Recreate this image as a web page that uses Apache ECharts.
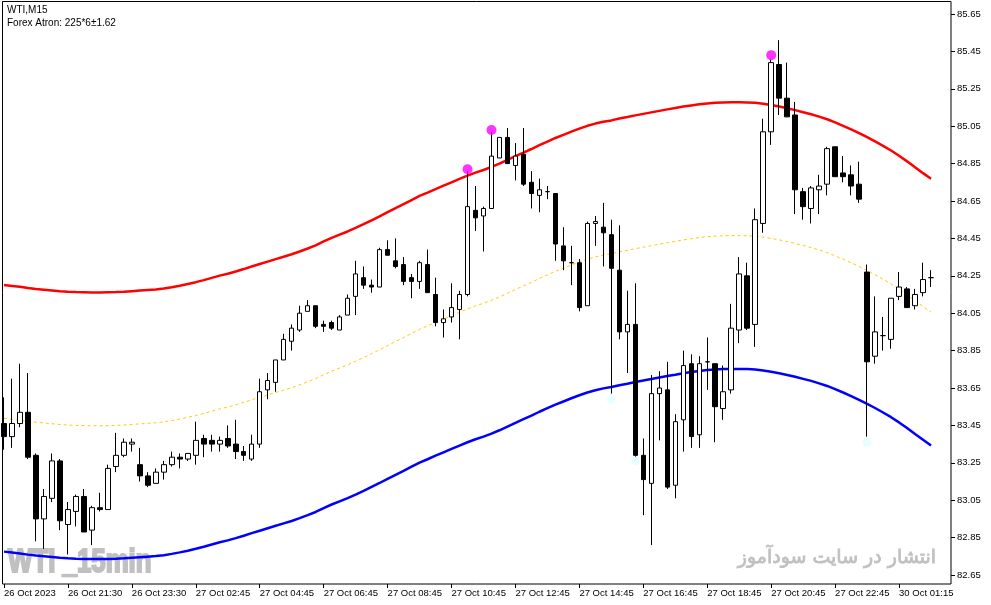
<!DOCTYPE html>
<html>
<head>
<meta charset="utf-8">
<script src="https://cdn.jsdelivr.net/npm/echarts@6/dist/echarts.min.js"></script>
<style>
html,body{margin:0;padding:0;background:#fff;}
#chart{width:991px;height:605px;}
</style>
</head>
<body>
<div id="chart"></div>
<script>
// ---- data ----
const tickLabels = ["26 Oct 2023","26 Oct 21:30","26 Oct 23:30","27 Oct 02:45","27 Oct 04:45","27 Oct 06:45","27 Oct 08:45","27 Oct 10:45","27 Oct 12:45","27 Oct 14:45","27 Oct 16:45","27 Oct 18:45","27 Oct 20:45","27 Oct 22:45","30 Oct 01:15"];
const yTicks = {min: 82.65, max: 85.65, step: 0.2};

const opens = [83.46,83.39,83.46,83.52,83.29,82.95,83.06,83.26,82.92,82.99,83.07,82.89,83.01,83.00,83.23,83.29,83.35,83.24,83.18,83.14,
83.20,83.24,83.28,83.27,83.29,83.38,83.37,83.35,83.38,83.35,83.31,83.27,83.35,83.64,83.68,83.80,83.90,83.96,84.06,84.09,
83.99,84.00,83.96,84.04,84.14,84.24,84.20,84.19,84.39,84.33,84.31,84.24,84.22,84.31,84.15,84.00,84.03,84.07,84.15,84.60,
84.57,84.61,84.88,84.99,84.84,84.90,84.75,84.68,84.70,84.69,84.41,84.32,84.32,84.09,84.53,84.51,84.47,84.28,83.95,83.99,
83.29,83.14,83.62,83.64,83.13,83.48,83.78,83.40,83.79,83.78,83.54,83.64,83.96,84.25,83.99,84.53,85.02,85.38,85.20,85.11,
84.70,84.61,84.71,84.74,84.94,84.80,84.79,84.74,84.27,83.82,83.93,83.91,84.14,84.18,84.09,84.16,84.24];
const highs = [83.60,83.70,83.78,83.73,83.30,83.11,83.30,83.27,83.04,83.08,83.11,83.02,83.09,83.24,83.41,83.38,83.38,83.33,83.20,83.22,
83.26,83.31,83.30,83.30,83.47,83.40,83.40,83.39,83.45,83.48,83.34,83.40,83.70,83.73,83.80,83.94,83.99,84.09,84.12,84.09,
84.01,84.01,84.04,84.15,84.33,84.30,84.23,84.40,84.44,84.45,84.35,84.26,84.33,84.39,84.24,84.07,84.21,84.17,84.81,84.73,
84.62,85.02,84.99,85.04,84.96,85.04,84.81,84.77,84.73,84.69,84.51,84.41,84.34,84.54,84.57,84.64,84.55,84.52,84.17,84.21,
83.38,83.72,83.74,83.79,83.51,83.85,83.83,83.82,83.92,83.78,83.77,84.10,84.35,84.32,84.61,85.09,85.41,85.51,85.39,85.18,
84.72,84.73,84.79,84.94,84.94,84.89,84.84,84.86,84.31,84.14,84.03,84.13,84.27,84.19,84.18,84.32,84.28];
const lows = [83.32,83.33,83.44,83.27,82.83,82.79,83.04,82.89,82.76,82.91,82.88,82.81,82.99,83.00,83.20,83.28,83.31,83.15,83.12,83.14,
83.16,83.23,83.22,83.26,83.24,83.28,83.31,83.31,83.33,83.27,83.26,83.26,83.33,83.59,83.63,83.80,83.85,83.95,84.06,83.97,
83.95,83.96,83.96,84.04,84.04,84.18,84.16,84.19,84.36,84.29,84.20,84.13,84.18,84.16,83.98,83.92,84.00,83.91,84.14,84.49,
84.38,84.61,84.88,84.85,84.76,84.73,84.61,84.59,84.66,84.33,84.28,84.20,84.06,84.09,84.41,84.30,83.62,83.91,83.73,83.28,
82.97,82.81,83.37,83.11,83.06,83.31,83.33,83.33,83.64,83.36,83.48,83.62,83.89,83.96,83.87,84.48,84.95,85.11,85.10,84.58,
84.55,84.53,84.58,84.68,84.78,84.75,84.68,84.64,83.39,83.78,83.85,83.86,84.12,84.08,84.07,84.14,84.19];
const closes = [83.39,83.46,83.52,83.28,82.95,83.07,83.26,82.94,83.00,83.07,82.88,83.01,83.00,83.22,83.29,83.36,83.36,83.18,83.13,83.20,
83.24,83.28,83.27,83.30,83.37,83.35,83.35,83.37,83.34,83.31,83.29,83.35,83.63,83.69,83.80,83.91,83.97,84.05,84.09,83.98,
83.98,83.97,84.03,84.13,84.26,84.20,84.19,84.39,84.36,84.30,84.22,84.22,84.32,84.16,84.00,84.02,84.08,84.15,84.62,84.56,
84.61,84.89,84.99,84.85,84.89,84.74,84.69,84.71,84.70,84.42,84.33,84.32,84.08,84.53,84.54,84.48,84.29,83.95,83.99,83.29,
83.16,83.62,83.65,83.12,83.47,83.77,83.39,83.78,83.79,83.55,83.63,83.97,84.26,83.97,84.55,85.02,85.39,85.20,85.10,84.71,
84.62,84.72,84.73,84.93,84.78,84.78,84.73,84.66,83.79,83.95,83.93,84.13,84.19,84.08,84.15,84.23,84.24];

const upperBand = [84.201,84.196,84.191,84.185,84.180,84.176,84.172,84.168,84.165,84.163,84.162,84.161,84.161,84.162,84.163,84.165,84.168,84.171,84.174,84.177,
84.182,84.189,84.197,84.206,84.216,84.227,84.239,84.251,84.261,84.273,84.286,84.300,84.313,84.326,84.339,84.352,84.365,84.380,84.396,84.413,
84.434,84.453,84.470,84.487,84.506,84.526,84.547,84.568,84.590,84.612,84.633,84.655,84.677,84.695,84.714,84.732,84.750,84.768,84.786,84.802,
84.816,84.832,84.850,84.870,84.890,84.909,84.928,84.949,84.968,84.987,85.004,85.021,85.037,85.052,85.064,85.074,85.081,85.091,85.099,85.108,
85.116,85.124,85.132,85.140,85.147,85.155,85.161,85.167,85.172,85.175,85.177,85.178,85.178,85.177,85.175,85.170,85.163,85.155,85.146,85.136,
85.125,85.114,85.101,85.087,85.070,85.052,85.033,85.013,84.991,84.969,84.945,84.920,84.892,84.862,84.830,84.799,84.769];
const middleBand = [83.488,83.483,83.478,83.472,83.467,83.463,83.459,83.455,83.452,83.450,83.449,83.448,83.448,83.449,83.450,83.452,83.455,83.458,83.461,83.464,
83.469,83.476,83.484,83.493,83.503,83.514,83.526,83.538,83.548,83.560,83.573,83.587,83.600,83.613,83.626,83.639,83.652,83.667,83.683,83.700,
83.721,83.740,83.757,83.774,83.793,83.813,83.834,83.855,83.877,83.899,83.920,83.942,83.964,83.982,84.001,84.019,84.037,84.055,84.073,84.089,
84.103,84.119,84.137,84.157,84.177,84.196,84.215,84.236,84.255,84.274,84.291,84.308,84.324,84.339,84.351,84.361,84.368,84.378,84.386,84.395,
84.403,84.411,84.419,84.427,84.434,84.442,84.448,84.454,84.459,84.462,84.464,84.465,84.465,84.464,84.462,84.457,84.450,84.442,84.433,84.423,
84.412,84.401,84.388,84.374,84.357,84.339,84.320,84.300,84.278,84.256,84.232,84.207,84.179,84.149,84.117,84.086,84.056];
const lowerBand = [82.775,82.770,82.765,82.759,82.754,82.750,82.746,82.742,82.739,82.737,82.736,82.735,82.735,82.736,82.737,82.739,82.742,82.745,82.748,82.751,
82.756,82.763,82.771,82.780,82.790,82.801,82.813,82.825,82.835,82.847,82.860,82.874,82.887,82.900,82.913,82.926,82.939,82.954,82.970,82.987,
83.008,83.027,83.044,83.061,83.080,83.100,83.121,83.142,83.164,83.186,83.207,83.229,83.251,83.269,83.288,83.306,83.324,83.342,83.360,83.376,
83.390,83.406,83.424,83.444,83.464,83.483,83.502,83.523,83.542,83.561,83.578,83.595,83.611,83.626,83.638,83.648,83.655,83.665,83.673,83.682,
83.690,83.698,83.706,83.714,83.721,83.729,83.735,83.741,83.746,83.749,83.751,83.752,83.752,83.751,83.749,83.744,83.737,83.729,83.720,83.710,
83.699,83.688,83.675,83.661,83.644,83.626,83.607,83.587,83.565,83.543,83.519,83.494,83.466,83.436,83.404,83.373,83.343];

const highSignalBars = [58, 61, 96];
const highSignalVals = [84.82, 85.03, 85.43];
const lowSignalBars = [76, 79, 108];
const lowSignalVals = [83.59, 83.26, 83.36];

const barsPerLabel = 8;
const emptyBarsRight = 2;

// ---- build ----
const nBars = opens.length;
const categories = [];
for (let i = 0; i < nBars + emptyBarsRight; i++) categories.push(String(i));
const candleData = opens.map((o, i) => [o, closes[i], lows[i], highs[i]]);
const highDots = highSignalBars.map((b, i) => [b, highSignalVals[i]]);
const lowDots = lowSignalBars.map((b, i) => [b, lowSignalVals[i]]);
const showTick = (idx) => idx % barsPerLabel === 0 && idx / barsPerLabel < tickLabels.length;

const FONT = "'Liberation Sans', Arial, sans-serif";
const chart = echarts.init(document.getElementById('chart'), null, {renderer: 'canvas'});
chart.setOption({
  animation: false,
  backgroundColor: '#ffffff',
  grid: {left: -1, right: 40, top: 14, bottom: 30, containLabel: false},
  xAxis: {
    type: 'category',
    data: categories,
    boundaryGap: true,
    offset: 9,
    axisLine: {show: false},
    axisTick: {show: true, alignWithLabel: true, interval: showTick, length: 4, lineStyle: {color: '#000'}},
    axisLabel: {
      interval: showTick,
      align: 'left',
      margin: 4,
      color: '#000',
      fontFamily: FONT,
      fontSize: 9.5,
      formatter: (v, idx) => tickLabels[idx / barsPerLabel] || ''
    },
    splitLine: {show: false}
  },
  yAxis: {
    type: 'value',
    position: 'right',
    min: yTicks.min,
    max: yTicks.max,
    interval: yTicks.step,
    axisLine: {show: false},
    axisTick: {show: true, length: 4, lineStyle: {color: '#000'}},
    axisLabel: {margin: 6, color: '#000', fontFamily: FONT, fontSize: 9.5, formatter: v => v.toFixed(2)},
    splitLine: {show: false}
  },
  series: [
    {type: 'line', data: upperBand, symbol: 'none', z: 2, lineStyle: {color: '#ff0000', width: 2.5}},
    {type: 'line', data: lowerBand, symbol: 'none', z: 2, lineStyle: {color: '#0000ff', width: 2.5}},
    {type: 'line', data: middleBand, symbol: 'none', z: 2, lineStyle: {color: '#ffcc00', width: 1, type: [3, 3]}},
    {
      type: 'candlestick',
      data: candleData,
      barWidth: 5,
      z: 3,
      itemStyle: {color: '#ffffff', color0: '#000000', borderColor: '#000000', borderColor0: '#000000', borderColorDoji: '#000000', borderWidth: 1}
    },
    {type: 'scatter', data: highDots, symbol: 'circle', symbolSize: 10, z: 5, itemStyle: {color: '#ff00ff'}},
    {type: 'scatter', data: lowDots, symbol: 'circle', symbolSize: 9, z: 5, itemStyle: {color: '#e0ffff'}}
  ],
  graphic: [
    {type: 'text', x: 8, y: 546, scaleX: 0.76, z: 0, silent: true,
     style: {text: 'WTI _15min', fill: '#c0c0c0', stroke: '#c0c0c0', lineWidth: 2.2, font: "bold 34px 'Liberation Sans', Arial, sans-serif"}},
    {type: 'text', x: 936, y: 549, z: 0, silent: true,
     style: {text: 'انتشار در سایت سودآموز', fill: '#c0c0c0', stroke: '#c0c0c0', lineWidth: 0.8, align: 'right', font: "19px 'DejaVu Sans', sans-serif"}},
    {type: 'text', left: 7, top: 5, z: 100, silent: true,
     style: {text: 'WTI,M15', fill: '#000', font: "10px 'Liberation Sans', Arial, sans-serif"}},
    {type: 'text', left: 7, top: 18, z: 100, silent: true,
     style: {text: 'Forex Atron: 225*6±1.62', fill: '#000', font: "10px 'Liberation Sans', Arial, sans-serif"}},
    {type: 'rect', z: 100, silent: true, shape: {x: 2.5, y: 1.5, width: 948.5, height: 582.5},
     style: {fill: null, stroke: '#000', lineWidth: 1}}
  ]
});
</script>
</body>
</html>
